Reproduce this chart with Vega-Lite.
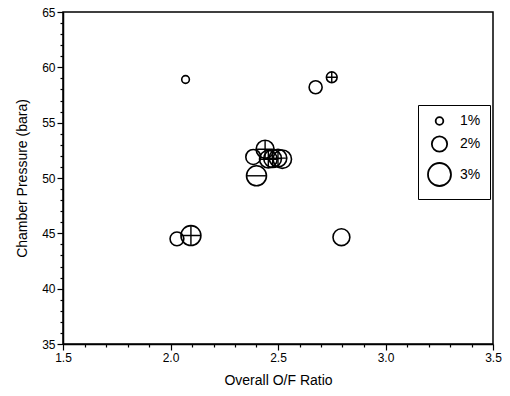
{
  "$schema": "https://vega.github.io/schema/vega-lite/v6.json",
  "width": 430,
  "height": 332,
  "autosize": {"type": "none"},
  "padding": {"left": 63, "top": 12, "right": 17, "bottom": 52},
  "background": "white",
  "config": {
    "font": "Liberation Sans",
    "view": {"stroke": "black", "strokeWidth": 1.5},
    "axis": {
      "grid": false,
      "domainColor": "black",
      "domainWidth": 1.5,
      "tickColor": "black",
      "tickWidth": 1.2,
      "labelColor": "black",
      "labelFontSize": 12,
      "titleColor": "black",
      "titleFontSize": 14,
      "titleFontWeight": "normal"
    }
  },
  "data": {
    "values": [
      {"x": 2.07, "y": 58.9, "pct": 1.0, "marker": "none"},
      {"x": 2.75, "y": 59.1, "pct": 1.4, "marker": "plus"},
      {"x": 2.675, "y": 58.2, "pct": 1.7, "marker": "none"},
      {"x": 2.03, "y": 44.5, "pct": 1.8, "marker": "none"},
      {"x": 2.095, "y": 44.8, "pct": 2.6, "marker": "plus"},
      {"x": 2.795, "y": 44.65, "pct": 2.2, "marker": "none"},
      {"x": 2.385, "y": 51.9, "pct": 1.95, "marker": "none"},
      {"x": 2.44, "y": 52.6, "pct": 2.35, "marker": "plus"},
      {"x": 2.40, "y": 50.2, "pct": 2.6, "marker": "minus"},
      {"x": 2.455, "y": 51.7, "pct": 2.3, "marker": "plus"},
      {"x": 2.475, "y": 51.75, "pct": 2.3, "marker": "plus"},
      {"x": 2.50, "y": 51.8, "pct": 2.3, "marker": "plus"},
      {"x": 2.52, "y": 51.7, "pct": 2.4, "marker": "none"}
    ]
  },
  "encoding": {
    "x": {
      "field": "x",
      "type": "quantitative",
      "scale": {"domain": [1.5, 3.5], "nice": false, "zero": false},
      "axis": {
        "title": "Overall O/F Ratio",
        "titlePadding": 10,
        "values": [1.5,1.6,1.7,1.8,1.9,2.0,2.1,2.2,2.3,2.4,2.5,2.6,2.7,2.8,2.9,3.0,3.1,3.2,3.3,3.4,3.5],
        "labelExpr": "abs(datum.value*2 - round(datum.value*2)) < 0.001 ? format(datum.value, '.1f') : ''",
        "tickSize": {"condition": {"test": "abs(datum.value*2 - round(datum.value*2)) < 0.001", "value": 6}, "value": 3},
        "labelFlush": false,
        "labelOverlap": false
      }
    },
    "y": {
      "field": "y",
      "type": "quantitative",
      "scale": {"domain": [35, 65], "nice": false, "zero": false},
      "axis": {
        "title": "Chamber Pressure (bara)",
        "titlePadding": 12,
        "values": [35,36,37,38,39,40,41,42,43,44,45,46,47,48,49,50,51,52,53,54,55,56,57,58,59,60,61,62,63,64,65],
        "labelExpr": "datum.value % 5 == 0 ? datum.label : ''",
        "tickSize": {"condition": {"test": "datum.value % 5 == 0", "value": 6}, "value": 3},
        "labelFlush": false,
        "labelOverlap": false
      }
    },
    "size": {
      "field": "pct",
      "type": "quantitative",
      "scale": {"type": "pow", "exponent": 2, "domain": [0, 3], "range": [0, 529]}
    }
  },
  "layer": [
    {
      "mark": {"type": "point", "shape": "circle", "filled": false, "stroke": "black", "strokeWidth": 1.6, "opacity": 1},
      "encoding": {
        "size": {
          "field": "pct",
          "type": "quantitative",
          "scale": {"type": "pow", "exponent": 2, "domain": [0, 3], "range": [0, 529]},
          "legend": {
            "title": null,
            "orient": "none",
            "legendX": 355,
            "legendY": 93,
            "values": [1, 2, 3],
            "labelExpr": "datum.value + '%'",
            "strokeColor": "black",
            "padding": 9,
            "rowPadding": 3,
            "labelFontSize": 14,
            "labelColor": "black",
            "labelOffset": 8,
            "symbolStrokeColor": "black",
            "symbolStrokeWidth": 1.8,
            "symbolFillColor": "transparent"
          }
        }
      }
    },
    {
      "transform": [{"filter": "datum.marker == 'plus'"}],
      "mark": {"type": "point", "shape": "M-1,0H1M0,-1V1", "filled": false, "stroke": "black", "strokeWidth": 1.4, "opacity": 1},
      "encoding": {
        "size": {"field": "pct", "type": "quantitative", "legend": null}
      }
    },
    {
      "transform": [{"filter": "datum.marker == 'minus'"}],
      "mark": {"type": "point", "shape": "M-1,0H1", "filled": false, "stroke": "black", "strokeWidth": 1.4, "opacity": 1},
      "encoding": {
        "size": {"field": "pct", "type": "quantitative", "legend": null}
      }
    }
  ]
}
